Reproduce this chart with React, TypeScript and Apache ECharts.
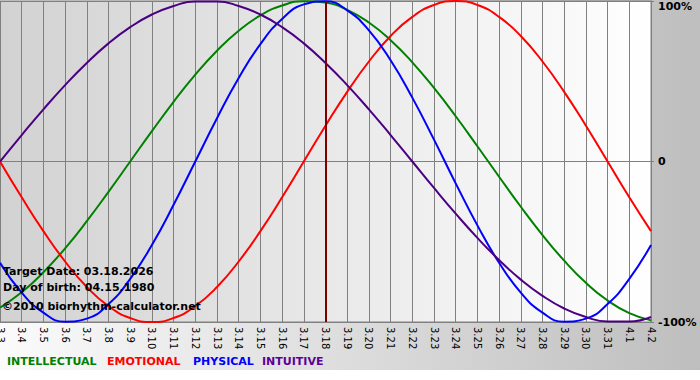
import React, { useEffect, useRef } from "react";
import * as echarts from "echarts";

const categories = [
  "3.3", "3.4", "3.5", "3.6", "3.7", "3.8", "3.9", "3.10", "3.11", "3.12",
  "3.13", "3.14", "3.15", "3.16", "3.17", "3.18", "3.19", "3.20", "3.21", "3.22",
  "3.23", "3.24", "3.25", "3.26", "3.27", "3.28", "3.29", "3.30", "3.31", "4.1", "4.2",
];

const intellectual = [
  -0.91, -0.815, -0.69, -0.541, -0.372, -0.189, 0, 0.189, 0.372, 0.541,
  0.69, 0.815, 0.91, 0.972, 0.999, 0.99, 0.945, 0.866, 0.756, 0.618,
  0.458, 0.282, 0.095, -0.095, -0.282, -0.458, -0.618, -0.756, -0.866, -0.945, -0.99,
];

const emotional = [
  0, -0.223, -0.434, -0.623, -0.782, -0.901, -0.975, -1.0, -0.975, -0.901,
  -0.782, -0.623, -0.434, -0.223, 0, 0.223, 0.434, 0.623, 0.782, 0.901,
  0.975, 1.0, 0.975, 0.901, 0.782, 0.623, 0.434, 0.223, 0, -0.223, -0.434,
];

const physical = [
  -0.631, -0.817, -0.942, -0.998, -0.979, -0.888, -0.731, -0.52, -0.27, 0,
  0.27, 0.52, 0.731, 0.888, 0.979, 0.998, 0.942, 0.817, 0.631, 0.398,
  0.136, -0.136, -0.398, -0.631, -0.817, -0.942, -0.998, -0.979, -0.888, -0.731, -0.52,
];

const intuitive = [
  0, 0.165, 0.325, 0.476, 0.614, 0.736, 0.837, 0.916, 0.969, 0.997,
  0.997, 0.969, 0.916, 0.837, 0.736, 0.614, 0.476, 0.325, 0.165, 0,
  -0.165, -0.325, -0.476, -0.614, -0.736, -0.837, -0.916, -0.969, -0.997, -0.997, -0.969,
];

const targetDay = "3.18";
const infoLines = ["Target Date: 03.18.2026", "Day of birth: 04.15.1980", "©2010 biorhythm-calculator.net"];
const legendNames = ["INTELLECTUAL", "EMOTIONAL", "PHYSICAL", "INTUITIVE"];

const FONT = "DejaVu Sans";

export default function App() {
  const ref = useRef<HTMLDivElement>(null);

  useEffect(() => {
    if (!ref.current) return;
    const chart = echarts.init(ref.current, undefined, { renderer: "svg" });

    const lineColors = ["#008000", "#ff0000", "#0000ff", "#4b0082"];
    const legendColors = ["#008000", "#ff0000", "#0000ff", "#5c0099"];
    const legendX = [7, 107, 193, 262];
    const infoY = [271, 287, 306];

    const mkSeries = (name: string, data: number[], color: string, extra: any = {}) => ({
      name,
      type: "line",
      data,
      smooth: true,
      showSymbol: false,
      symbol: "none",
      lineStyle: { color, width: 2 },
      itemStyle: { color },
      silent: true,
      ...extra,
    });

    const option: any = {
      animation: false,
      backgroundColor: {
        type: "linear",
        x: 0,
        y: 0,
        x2: 1,
        y2: 0,
        colorStops: [
          { offset: 0, color: "#fbfbfb" },
          { offset: 1, color: "#bebebe" },
        ],
      },
      grid: {
        left: 0,
        top: 1,
        right: 49,
        bottom: 58,
        show: true,
        containLabel: false,
        outerBoundsMode: "none",
        borderColor: "#808080",
        borderWidth: 1,
        backgroundColor: {
          type: "linear",
          x: 0,
          y: 0,
          x2: 1,
          y2: 0,
          colorStops: [
            { offset: 0, color: "#d2d2d2" },
            { offset: 1, color: "#ffffff" },
          ],
        },
      },
      xAxis: {
        type: "category",
        data: categories,
        boundaryGap: false,
        axisLine: { show: true, lineStyle: { color: "#808080", width: 1 } },
        axisTick: { show: true, length: 4, interval: 0, lineStyle: { color: "#808080" } },
        axisLabel: {
          rotate: -90,
          interval: 0,
          fontSize: 10,
          fontFamily: FONT,
          color: "#000",
          margin: 5,
          hideOverlap: false,
        },
        splitLine: { show: true, interval: 0, lineStyle: { color: "#808080", width: 1 } },
      },
      yAxis: {
        type: "value",
        position: "right",
        min: -1,
        max: 1,
        interval: 1,
        axisLine: { show: true, lineStyle: { color: "#808080" } },
        axisTick: { show: true, length: 3, lineStyle: { color: "#808080" } },
        axisLabel: {
          fontWeight: "bold",
          fontSize: 11,
          fontFamily: FONT,
          color: "#000",
          margin: 7,
          verticalAlignMaxLabel: "top",
          formatter: (v: number) => (v === 0 ? "0" : Math.round(v * 100) + "%"),
        },
        splitLine: { show: true, lineStyle: { color: "#808080", width: 1 } },
      },
      series: [
        mkSeries("INTELLECTUAL", intellectual, lineColors[0], {
          markLine: {
            silent: true,
            symbol: ["none", "none"],
            label: { show: false },
            lineStyle: { color: "#800000", width: 2, type: "solid" },
            data: [{ xAxis: targetDay }],
          },
        }),
        mkSeries("EMOTIONAL", emotional, lineColors[1]),
        mkSeries("PHYSICAL", physical, lineColors[2]),
        mkSeries("INTUITIVE", intuitive, lineColors[3]),
      ],
      graphic: [
        {
          type: "rect",
          silent: true,
          z: 0,
          shape: { x: 0, y: 370, width: 700, height: 10 },
          style: { fill: "#ffffff" },
        },
        ...infoLines.map((t, i) => ({
          type: "text",
          x: i === 2 ? 2 : 3,
          y: infoY[i],
          z: 100,
          silent: true,
          style: {
            text: t,
            fill: "#000",
            fontSize: 11,
            fontWeight: "bold",
            fontFamily: FONT,
            verticalAlign: "middle",
          },
        })),
        ...legendNames.map((t, i) => ({
          type: "text",
          x: legendX[i],
          y: 361,
          z: 100,
          silent: true,
          style: {
            text: t,
            fill: legendColors[i],
            fontSize: 11,
            fontWeight: "bold",
            fontFamily: FONT,
            verticalAlign: "middle",
          },
        })),
      ],
    };

    chart.setOption(option);
    return () => chart.dispose();
  }, []);

  return (
    <div
      ref={ref}
      style={{ position: "fixed", left: 0, top: 0, width: 700, height: 380 }}
    />
  );
}
